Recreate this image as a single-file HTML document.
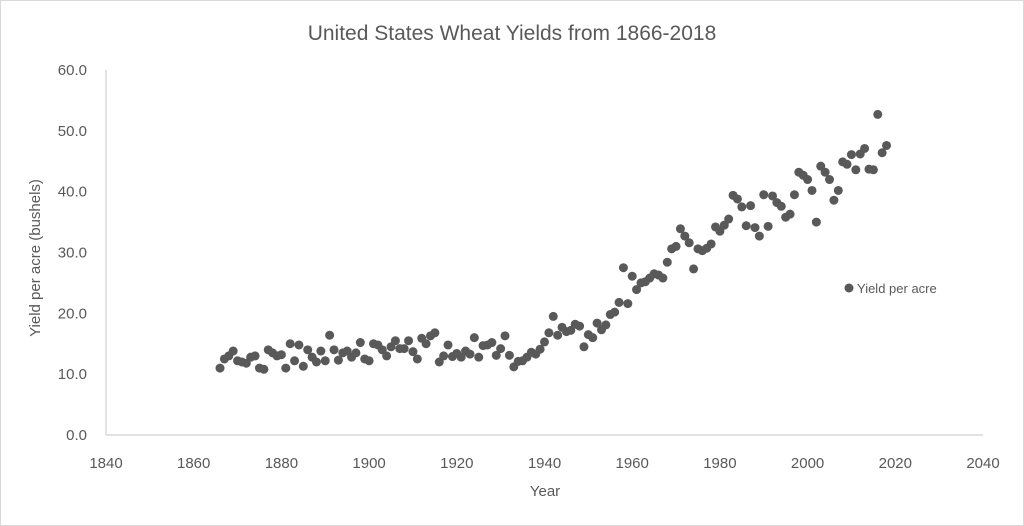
<!DOCTYPE html>
<html><head><meta charset="utf-8"><style>
body{margin:0;background:#fff;}
svg{display:block;font-family:"Liberation Sans",sans-serif;}
</style></head><body>
<svg id="s" width="1024" height="526" viewBox="0 0 1024 526">
<rect x="0.5" y="0.5" width="1023" height="525" fill="#fff" stroke="#d9d9d9"/>
<text x="512" y="40" text-anchor="middle" font-size="21" fill="#595959">United States Wheat Yields from 1866-2018</text>
<line x1="106" y1="435" x2="983" y2="435" stroke="#d9d9d9" stroke-width="1.5"/>
<line x1="106" y1="70" x2="106" y2="435" stroke="#d9d9d9" stroke-width="1.5"/>
<g font-size="15" fill="#595959" text-anchor="end" id="yl"></g>
<g font-size="15" fill="#595959" text-anchor="middle" id="xl"></g>
<text x="545" y="496" text-anchor="middle" font-size="15" fill="#595959">Year</text>
<text transform="translate(40,258) rotate(-90)" text-anchor="middle" font-size="15" fill="#595959">Yield per acre (bushels)</text>
<g id="pts" fill="#595959"></g>
<circle cx="849" cy="288" r="4.5" fill="#595959"/>
<text x="857" y="293" font-size="13" fill="#595959">Yield per acre</text>
</svg>
<script>
var d=[11.0,12.5,13.0,13.8,12.2,12.0,11.8,12.8,13.0,11.0,10.8,14.0,13.5,13.0,13.2,11.0,15.0,12.2,14.8,11.3,14.0,12.8,12.0,13.8,12.2,16.4,14.0,12.3,13.5,13.8,12.8,13.5,15.2,12.5,12.2,15.0,14.8,14.0,13.0,14.5,15.5,14.2,14.2,15.5,13.7,12.5,15.9,15.0,16.3,16.8,12.0,13.0,14.8,12.9,13.4,12.8,13.8,13.3,16.0,12.8,14.7,14.8,15.2,13.1,14.2,16.3,13.1,11.2,12.1,12.2,12.8,13.6,13.3,14.1,15.3,16.8,19.5,16.4,17.7,17.0,17.2,18.2,17.9,14.5,16.5,16.0,18.4,17.3,18.1,19.8,20.2,21.8,27.5,21.6,26.1,23.9,25.0,25.2,25.8,26.5,26.3,25.8,28.4,30.6,31.0,33.9,32.7,31.6,27.3,30.6,30.3,30.7,31.4,34.2,33.5,34.5,35.5,39.4,38.8,37.5,34.4,37.7,34.1,32.7,39.5,34.3,39.3,38.2,37.6,35.8,36.3,39.5,43.2,42.7,42.0,40.2,35.0,44.2,43.2,42.0,38.6,40.2,44.9,44.5,46.1,43.6,46.2,47.1,43.7,43.6,52.7,46.4,47.6];
var ns="http://www.w3.org/2000/svg",g=document.getElementById('pts');
function X(y){return 106+(y-1840)*4.385;}function Y(v){return 435-v*6.083;}
d.forEach(function(v,i){var c=document.createElementNS(ns,'circle');c.setAttribute('cx',X(1866+i));c.setAttribute('cy',Y(v));c.setAttribute('r',4.5);g.appendChild(c);});
var yl=document.getElementById('yl');for(var v=0;v<=60;v+=10){var t=document.createElementNS(ns,'text');t.setAttribute('x',87);t.setAttribute('y',Y(v)+5);t.textContent=v.toFixed(1);yl.appendChild(t);}
var xl=document.getElementById('xl');for(var y=1840;y<=2040;y+=20){var t=document.createElementNS(ns,'text');t.setAttribute('x',X(y));t.setAttribute('y',468);t.textContent=y;xl.appendChild(t);}
</script>
</body></html>
